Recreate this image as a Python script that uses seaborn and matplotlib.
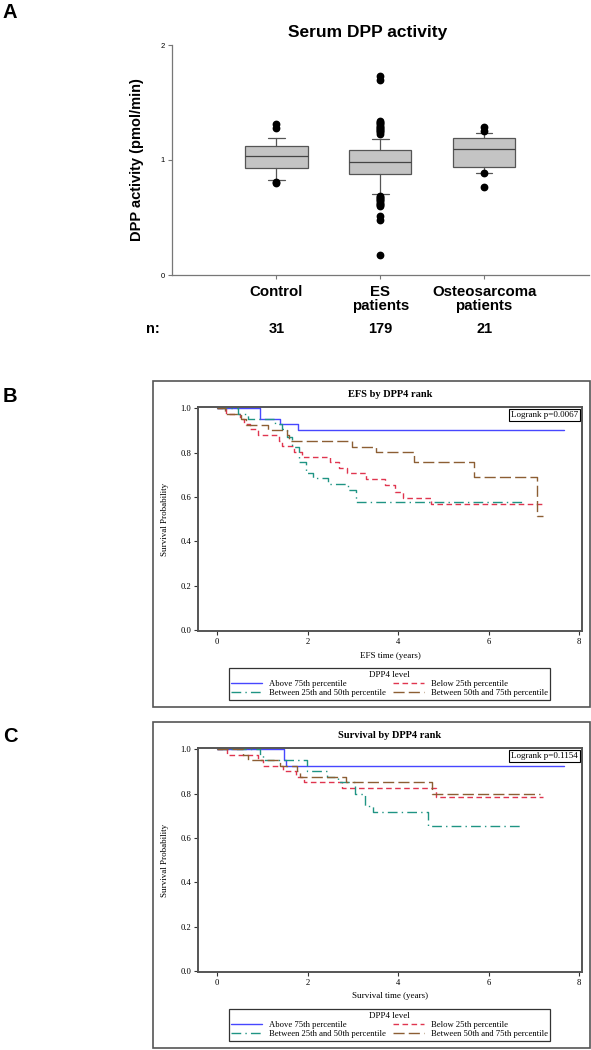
import numpy as np
import pandas as pd
import matplotlib
matplotlib.use("Agg")
import matplotlib.pyplot as plt
from matplotlib.patches import Rectangle
import seaborn as sns

# ---- panel A: serum DPP activity (box summaries)
groups_a = ["Control", "ES\npatients", "Osteosarcoma\npatients"]
n_counts = [31, 179, 21]
box_q1 = [0.933, 0.878, 0.936]
box_med = [1.037, 0.980, 1.096]
box_q3 = [1.119, 1.090, 1.191]
whisk_lo = [0.823, 0.704, 0.887]
whisk_hi = [1.194, 1.183, 1.232]
outliers = [
    [1.31, 1.28, 0.81, 0.80],
    [1.23, 1.24, 1.25, 1.26, 1.27, 1.28, 1.29, 1.30, 1.31, 1.32, 1.33, 1.34,
     1.70, 1.73, 0.69, 0.68, 0.67, 0.66, 0.65, 0.64, 0.63, 0.62, 0.61, 0.60,
     0.51, 0.48, 0.17],
    [1.287, 1.252, 0.885, 0.765],
]

# ---- panels B/C: Kaplan-Meier step curves by DPP4 level
levels = ["Above 75th percentile", "Below 25th percentile",
          "Between 25th and 50th percentile", "Between 50th and 75th percentile"]

efs_above_t = [0, 0.96, 1.40, 1.78, 7.67]
efs_above_s = [1.0, 0.950, 0.929, 0.902, 0.902]
efs_below_t = [0, 0.20, 0.50, 0.60, 0.73, 0.90, 1.37, 1.43, 1.69, 1.87, 2.49,
               2.70, 2.86, 3.30, 3.71, 3.93, 4.11, 4.72, 7.19]
efs_below_s = [1.0, 0.976, 0.952, 0.928, 0.905, 0.880, 0.853, 0.829, 0.805,
               0.780, 0.756, 0.731, 0.707, 0.681, 0.654, 0.624, 0.597, 0.567, 0.567]
efs_mid_t = [0, 0.47, 0.69, 1.27, 1.43, 1.54, 1.65, 1.81, 1.96, 2.13, 2.46,
             2.90, 3.08, 6.73]
efs_mid_s = [1.0, 0.975, 0.950, 0.929, 0.905, 0.872, 0.827, 0.759, 0.707,
             0.684, 0.659, 0.632, 0.579, 0.579]
efs_upper_t = [0, 0.18, 0.52, 0.65, 1.12, 1.55, 1.60, 2.99, 3.52, 4.34, 5.67,
               7.06, 7.19]
efs_upper_s = [1.0, 0.976, 0.952, 0.927, 0.902, 0.878, 0.854, 0.827, 0.801,
               0.756, 0.689, 0.516, 0.516]

os_above_t = [0, 1.48, 1.52, 7.67]
os_above_s = [1.0, 0.952, 0.926, 0.926]
os_below_t = [0, 0.21, 0.90, 1.02, 1.45, 1.75, 1.92, 2.75, 4.83, 7.19]
os_below_s = [1.0, 0.975, 0.950, 0.925, 0.900, 0.875, 0.851, 0.825, 0.787, 0.787]
os_mid_t = [0, 0.95, 1.01, 1.98, 2.42, 2.68, 3.05, 3.27, 3.45, 4.65, 6.73]
os_mid_s = [1.0, 0.974, 0.952, 0.900, 0.877, 0.851, 0.798, 0.745, 0.718,
            0.655, 0.655]
os_upper_t = [0, 0.58, 0.69, 1.39, 1.76, 1.83, 2.84, 4.75, 7.13]
os_upper_s = [1.0, 0.974, 0.952, 0.926, 0.900, 0.877, 0.851, 0.798, 0.798]

palette = {levels[0]: "#4747ff", levels[1]: "#e0354f",
           levels[2]: "#1f9484", levels[3]: "#8c5e33"}
dash_map = {levels[0]: "", levels[1]: (4, 2.5),
            levels[2]: (7, 3, 1, 3), levels[3]: (8, 3)}


def km_frame(curves):
    rows = []
    for name, (t, s) in zip(levels, curves):
        rows.append(pd.DataFrame({"time": t, "surv": s, "group": name}))
    return pd.concat(rows, ignore_index=True)


sns.set_style("white")
plt.rcParams["font.family"] = ["Liberation Sans", "DejaVu Sans"]
plt.rcParams.update({"text.color": "black", "axes.labelcolor": "black",
                     "xtick.color": "black", "ytick.color": "black"})

fig = plt.figure(figsize=(5.91, 10.5), dpi=100)
W, H = 591.0, 1050.0


def px_axes(left, top, right, bottom):
    return fig.add_axes([left / W, 1 - bottom / H, (right - left) / W, (bottom - top) / H])


# ================= panel A =================
axA = px_axes(171.5, 45, 589, 275)
stats = []
for i in range(3):
    stats.append(dict(med=box_med[i], q1=box_q1[i], q3=box_q3[i],
                      whislo=whisk_lo[i], whishi=whisk_hi[i], fliers=outliers[i]))
axA.bxp(stats, positions=[0, 1, 2], widths=0.6, patch_artist=True, capwidths=0.16,
        boxprops=dict(facecolor="#c4c4c4", edgecolor="#555555", linewidth=0.9),
        medianprops=dict(color="#444444", linewidth=0.9),
        whiskerprops=dict(color="#555555", linewidth=0.9),
        capprops=dict(color="#555555", linewidth=0.9),
        flierprops=dict(marker="o", markerfacecolor="black", markeredgecolor="black",
                        markersize=4.6))
axA.set_xlim(-1.01, 3.01)
axA.set_ylim(0, 2)
axA.set_yticks([0, 1, 2])
axA.set_xticks([0, 1, 2])
axA.set_xticklabels(groups_a, fontsize=10.8, fontweight="bold", linespacing=1.05)
axA.tick_params(axis="y", labelsize=5.5, length=3, width=0.8, color="#777777", pad=2,
                left=True)
axA.tick_params(axis="x", length=3, width=0.8, color="#777777", pad=4, bottom=True)
for side in ["top", "right"]:
    axA.spines[side].set_visible(False)
for side in ["left", "bottom"]:
    axA.spines[side].set_color("#777777")
    axA.spines[side].set_linewidth(0.9)
axA.set_title("Serum DPP activity", fontsize=12.5, fontweight="bold", pad=6, x=0.47)
axA.set_ylabel("DPP activity (pmol/min)", fontsize=10.5, fontweight="bold", labelpad=12)

fig.text(153 / W, 1 - 329 / H, "n:", fontsize=10.5, fontweight="bold", ha="center", va="center")
for i, n in enumerate(n_counts):
    x_fig = fig.transFigure.inverted().transform(axA.transData.transform((i, 0)))[0]
    fig.text(x_fig, 1 - 329 / H, str(n), fontsize=10.5, fontweight="bold",
             ha="center", va="center")

for lab, y in [("A", 12), ("B", 396), ("C", 736)]:
    fig.text(3 / W, 1 - y / H, lab, fontsize=14.5, fontweight="bold", va="center")


# ================= panels B and C =================
def km_panel(top, curves, title, xlabel, pval):
    frame_top = top
    fig.add_artist(Rectangle((153 / W, 1 - (frame_top + 326) / H), 437 / W, 326 / H,
                             transform=fig.transFigure, fill=False,
                             edgecolor="#555555", linewidth=1.2))
    ax = px_axes(198, frame_top + 26, 582, frame_top + 250)
    df = km_frame(curves)
    sns.lineplot(data=df, x="time", y="surv", hue="group", style="group",
                 hue_order=levels, style_order=levels, palette=palette,
                 dashes=dash_map, drawstyle="steps-post", estimator=None,
                 sort=False, legend=False, linewidth=1.0, ax=ax)
    ax.set_xlim(-0.42, 8.06)
    ax.set_ylim(-0.005, 1.006)
    ax.set_xticks([0, 2, 4, 6, 8])
    ax.set_yticks([0, 0.2, 0.4, 0.6, 0.8, 1.0])
    ax.set_yticklabels(["0.0", "0.2", "0.4", "0.6", "0.8", "1.0"])
    ax.tick_params(labelsize=6.2, length=3, width=0.8, color="#333333", pad=2,
                   left=True, bottom=True, labelfontfamily="Liberation Serif")
    for sp in ax.spines.values():
        sp.set_color("#555555")
        sp.set_linewidth(1.4)
    ax.set_title(title, fontsize=7.5, fontweight="bold", family="Liberation Serif", pad=7)
    ax.set_xlabel(xlabel, fontsize=6.5, family="Liberation Serif", labelpad=4)
    ax.set_ylabel("Survival Probability", fontsize=6.5, family="Liberation Serif", labelpad=8)
    ax.text(0.99, 0.982, pval, transform=ax.transAxes, ha="right", va="top",
            fontsize=6.5, family="Liberation Serif",
            bbox=dict(boxstyle="square,pad=0.25", facecolor="white",
                      edgecolor="black", linewidth=0.8))
    lines = ax.get_lines()[:4]
    order = [0, 2, 1, 3]
    leg = fig.legend([lines[k] for k in order], [levels[k] for k in order],
                     loc="center", bbox_to_anchor=(389.5 / W, 1 - (frame_top + 303) / H),
                     ncol=2, title="DPP4 level", frameon=True, fancybox=False,
                     prop={"family": "Liberation Serif", "size": 6.2},
                     title_fontproperties={"family": "Liberation Serif", "size": 6.5},
                     handlelength=3.6, handletextpad=0.8, columnspacing=0.8,
                     borderpad=0.3, labelspacing=0.15)
    leg.get_frame().set_edgecolor("black")
    leg.get_frame().set_linewidth(0.9)
    return ax


km_panel(381, [(efs_above_t, efs_above_s), (efs_below_t, efs_below_s),
               (efs_mid_t, efs_mid_s), (efs_upper_t, efs_upper_s)],
         "EFS by DPP4 rank", "EFS time (years)", "Logrank p=0.0067")
km_panel(722, [(os_above_t, os_above_s), (os_below_t, os_below_s),
               (os_mid_t, os_mid_s), (os_upper_t, os_upper_s)],
         "Survival by DPP4 rank", "Survival time (years)", "Logrank p=0.1154")

plt.savefig("out.png", dpi=100)
plt.close()
